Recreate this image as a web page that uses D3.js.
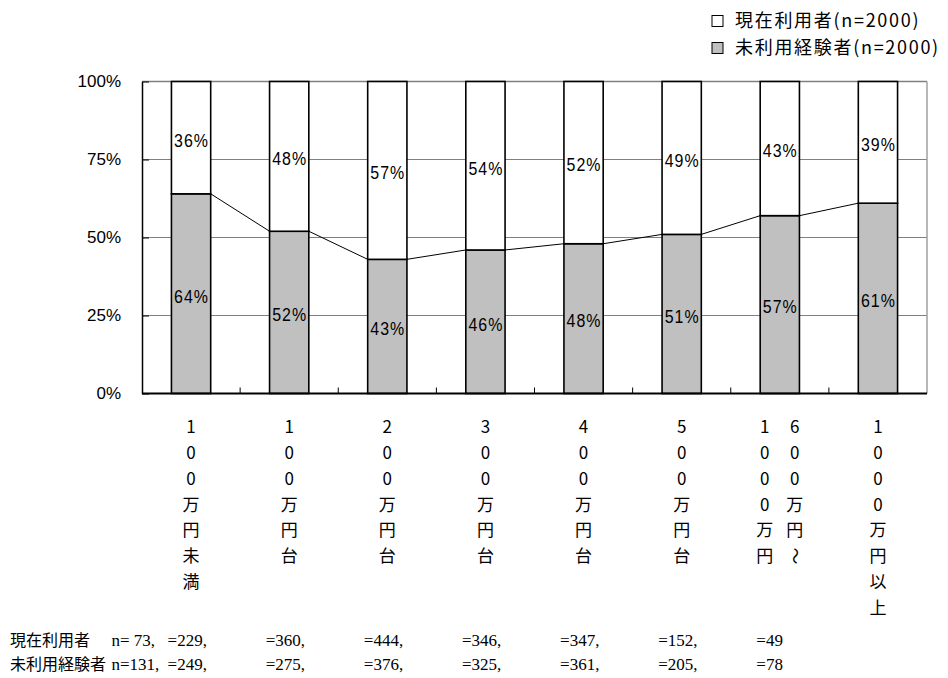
<!DOCTYPE html>
<html lang="ja">
<head>
<meta charset="utf-8">
<script src="https://cdn.jsdelivr.net/npm/d3@7"></script>
<style>
  html, body { margin: 0; padding: 0; background: #fff; }
  svg { display: block; }
</style>
</head>
<body>
<svg id="chart" width="948" height="678"></svg>
<script>
// Income brackets (vertical labels are drawn one character per row;
// a bracket may wrap into several columns, listed right to left)
const categories = ["100万円未満", "100万円台", "200万円台", "300万円台", "400万円台", "500万円台", "600万円～1000万円", "1000万円以上"];
const categoryColumns = [["100万円未満"], ["100万円台"], ["200万円台"], ["300万円台"], ["400万円台"], ["500万円台"], ["600万円～", "1000万円"], ["1000万円以上"]];

// Shares within each bracket (percent)
const seriesNames = ["現在利用者(n=2000)", "未利用経験者(n=2000)"];
const currentUsers = [36, 48, 57, 54, 52, 49, 43, 39];     // white, upper segment
const formerUsers  = [64, 52, 43, 46, 48, 51, 57, 61];     // grey, lower segment

// Sample sizes per bracket
const tableRowLabels = ["現在利用者", "未利用経験者"];
const nCurrent = [73, 229, 360, 444, 346, 347, 152, 49];
const nFormer  = [131, 249, 275, 376, 325, 361, 205, 78];

const yTicks = [0, 0.25, 0.5, 0.75, 1];

const svg = d3.select("#chart");
const plot = { left: 142, right: 927, top: 81.5, bottom: 393.5 };

const x = d3.scaleBand()
  .domain(categories)
  .range([plot.left, plot.right])
  .paddingInner(0.6)
  .paddingOuter(0.3);
const y = d3.scaleLinear().domain([0, 1]).range([plot.bottom, plot.top]);
const bw = x.bandwidth();
const step = x.step();

const grey = "#c0c0c0";
const jp = "'Noto Sans CJK JP', 'Noto Sans', sans-serif";

// gridlines
svg.append("g")
  .selectAll("line")
  .data(yTicks.filter(t => t > 0 && t < 1))
  .join("line")
  .attr("x1", plot.left).attr("x2", plot.right)
  .attr("y1", d => y(d)).attr("y2", d => y(d))
  .attr("stroke", "#808080").attr("stroke-width", 1);

// plot frame: top and right edges
svg.append("line")
  .attr("x1", plot.left).attr("x2", plot.right)
  .attr("y1", y(1)).attr("y2", y(1))
  .attr("stroke", "#808080").attr("stroke-width", 1.5);
svg.append("line")
  .attr("x1", plot.right).attr("x2", plot.right)
  .attr("y1", y(1)).attr("y2", y(0))
  .attr("stroke", "#a0a0a0").attr("stroke-width", 1.5);

// stacked bars
const bars = svg.append("g");
categories.forEach((c, i) => {
  const g = formerUsers[i] / 100;
  const w = currentUsers[i] / 100;
  bars.append("rect")
    .attr("x", x(c)).attr("width", bw)
    .attr("y", y(g)).attr("height", y(0) - y(g))
    .attr("fill", grey).attr("stroke", "#000").attr("stroke-width", 1.6);
  bars.append("rect")
    .attr("x", x(c)).attr("width", bw)
    .attr("y", y(g + w)).attr("height", y(g) - y(g + w))
    .attr("fill", "#fff").attr("stroke", "#000").attr("stroke-width", 1.6);
});

// series lines joining the tops of the grey segments
const seg = [];
for (let i = 0; i < categories.length - 1; i++) {
  seg.push([[x(categories[i]) + bw, y(formerUsers[i] / 100)],
            [x(categories[i + 1]), y(formerUsers[i + 1] / 100)]]);
}
svg.append("g")
  .selectAll("path")
  .data(seg)
  .join("path")
  .attr("d", d => d3.line()(d))
  .attr("fill", "none").attr("stroke", "#000").attr("stroke-width", 1);

// value labels at segment centres (tall, narrow digits)
const labelFont = "'Liberation Sans', Arial, sans-serif";
const labels = svg.append("g")
  .attr("font-family", labelFont).attr("font-size", 19)
  .attr("letter-spacing", 1.2).attr("text-anchor", "middle").attr("fill", "#000");
function valueLabel(cx, cy, txt) {
  labels.append("text")
    .attr("transform", `translate(${cx},${cy}) scale(0.84,1)`)
    .attr("dy", "0.36em")
    .text(txt);
}
categories.forEach((c, i) => {
  const g = formerUsers[i] / 100;
  const w = currentUsers[i] / 100;
  const cx = x(c) + bw / 2 + 0.5;
  valueLabel(cx, y(g / 2) + 2, formerUsers[i] + "%");
  valueLabel(cx, y(g + w / 2) + 2, currentUsers[i] + "%");
});

// y axis with inward ticks
const yAxis = svg.append("g")
  .attr("transform", `translate(${plot.left},0)`)
  .call(d3.axisLeft(y).tickValues(yTicks).tickFormat(d3.format(".0%"))
    .tickSizeInner(-7).tickSizeOuter(0).tickPadding(21));
yAxis.select(".domain").attr("stroke", "#000").attr("stroke-width", 1.5);
yAxis.selectAll(".tick line").attr("stroke", "#000");
yAxis.selectAll(".tick text")
  .attr("font-family", labelFont).attr("font-size", 17).attr("fill", "#000");

// x axis baseline with upward ticks between categories
svg.append("line")
  .attr("x1", plot.left).attr("x2", plot.right)
  .attr("y1", y(0)).attr("y2", y(0))
  .attr("stroke", "#000").attr("stroke-width", 2);
svg.append("g")
  .selectAll("line")
  .data(categories.slice(0, -1))
  .join("line")
  .attr("x1", d => x(d) + bw + (step - bw) / 2)
  .attr("x2", d => x(d) + bw + (step - bw) / 2)
  .attr("y1", y(0)).attr("y2", y(0) - 6)
  .attr("stroke", "#000").attr("stroke-width", 1);

// vertical category labels
const rowPitch = 25.8;
const firstRowY = y(0) + 33.5;
const colGap = 30;
const catG = svg.append("g")
  .attr("font-family", jp).attr("font-size", 17).attr("fill", "#000")
  .attr("text-anchor", "middle");
categories.forEach((c, i) => {
  const cols = categoryColumns[i];
  const cx = x(c) + bw / 2;
  cols.forEach((col, k) => {
    const colX = cx + (cols.length - 1) * colGap / 2 - k * colGap;
    Array.from(col).forEach((ch, r) => {
      const ty = firstRowY + r * rowPitch;
      const t = catG.append("text")
        .attr("x", colX).attr("y", ty).attr("dy", "0.36em").text(ch);
      if (ch === "～") t.attr("transform", `rotate(90,${colX},${ty})`);
    });
  });
});

// legend
const legend = svg.append("g").attr("font-family", jp).attr("font-size", 18)
  .attr("letter-spacing", 1.7).attr("fill", "#000");
[["#fff", 0], [grey, 1]].forEach(([fill, i]) => {
  const ly = 21 + i * 27;
  legend.append("rect")
    .attr("x", 712).attr("y", ly - 5.5).attr("width", 11).attr("height", 11)
    .attr("fill", fill).attr("stroke", "#000").attr("stroke-width", 1);
  legend.append("text")
    .attr("x", 735).attr("y", ly).attr("dy", "0.36em")
    .text(seriesNames[i]);
});

// sample-size table under the axis
const table = svg.append("g");
[nCurrent, nFormer].forEach((vals, r) => {
  const ty = 640 + r * 24;
  table.append("text")
    .attr("x", 10).attr("y", ty).attr("dy", "0.36em")
    .attr("font-family", jp).attr("font-size", 16).attr("fill", "#000")
    .text(tableRowLabels[r]);
  vals.forEach((v, i) => {
    const isFirst = i === 0;
    const isLast = i === vals.length - 1;
    const txt = (isFirst ? "n=" + (v < 100 ? " " : "") : "=") + v + (isLast ? "" : ",");
    table.append("text")
      .attr("x", x(categories[i]) + (isFirst ? -60 : -102))
      .attr("y", ty).attr("dy", "0.36em")
      .attr("xml:space", "preserve")
      .style("white-space", "pre")
      .attr("font-family", "'Liberation Serif', 'Times New Roman', serif")
      .attr("font-size", 17).attr("fill", "#000")
      .text(txt);
  });
});
</script>
</body>
</html>
